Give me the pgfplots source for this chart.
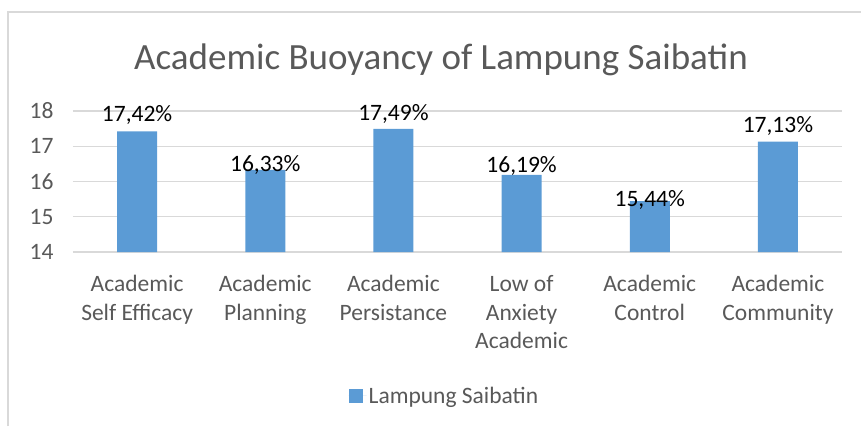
\documentclass[border=0pt]{standalone}
\usepackage{fontspec}
\setmainfont{Carlito}
\usepackage{pgfplots}
\usepackage{pgfplotstable}
\pgfplotsset{compat=1.18}
\definecolor{barblue}{HTML}{5B9BD5}
\definecolor{txtgray}{HTML}{595959}
\definecolor{gridgray}{HTML}{D9D9D9}

% val = bar height, ly = baseline of its data label
\pgfplotstableread{
x  val    ly      lab
0  17.42  17.716  17,42\%
1  16.33  16.270  16,33\%
2  17.49  17.731  17,49\%
3  16.19  16.255  16,19\%
4  15.44  15.305  15,44\%
5  17.13  17.390  17,13\%
}\buoyancy

\begin{document}
\begin{tikzpicture}[x=1bp,y=1bp]
    % page = 861 x 426, axis box corner at origin
    \path[use as bounding box] (-73,-174) rectangle (788,252);
    \draw[gridgray, line width=1.2bp] (-65,-174) -- (-65,240) -- (788,240);
    \node[txtgray, font=\fontsize{37bp}{42bp}\selectfont] at (368,192) {Academic Buoyancy of Lampung Saibatin};

    \begin{axis}[
        at={(0,0)}, anchor=south west,
        scale only axis,
        width=769bp, height=141bp,
        xmin=-0.5, xmax=5.5,
        ymin=14, ymax=18,
        ytick={14,15,16,17,18},
        xtick={0,1,2,3,4,5},
        xticklabels={
            Academic\\Self Efficacy,
            Academic\\Planning,
            Academic\\Persistance,
            Low of\\Anxiety\\Academic,
            Academic\\Control,
            Academic\\Community},
        axis line style={draw=none},
        ymajorgrids=true,
        grid style={gridgray, line width=1.2bp},
        major tick length=0pt,
        /pgf/number format/assume math mode=true,
        tick label style={txtgray, font=\fontsize{23.5bp}{28.5bp}\selectfont},
        xticklabel style={align=center, yshift=-20bp},
        yticklabel style={xshift=-16bp},
        clip=false,
        legend style={at={(0.483,-1.02)}, anchor=center, draw=none,
            font=\fontsize{23.5bp}{28bp}\selectfont, text=txtgray},
        legend image code/.code={
            \path (-4bp,0bp) -- (14bp,0bp);
            \fill[barblue] (-4bp,-7bp) rectangle (10bp,7bp);
        },
    ]
        \addplot[ybar, bar width=40bp, fill=barblue, draw=none]
            table[x=x, y=val] {\buoyancy};
        \addlegendentry{Lampung Saibatin}

        \addplot[draw=none, mark=none, forget plot,
            nodes near coords,
            point meta=explicit symbolic,
            every node near coord/.append style={black, anchor=base,
                font=\fontsize{23.5bp}{28bp}\selectfont, inner sep=0bp}]
            table[x=x, y=ly, meta=lab] {\buoyancy};
    \end{axis}
\end{tikzpicture}
\end{document}
